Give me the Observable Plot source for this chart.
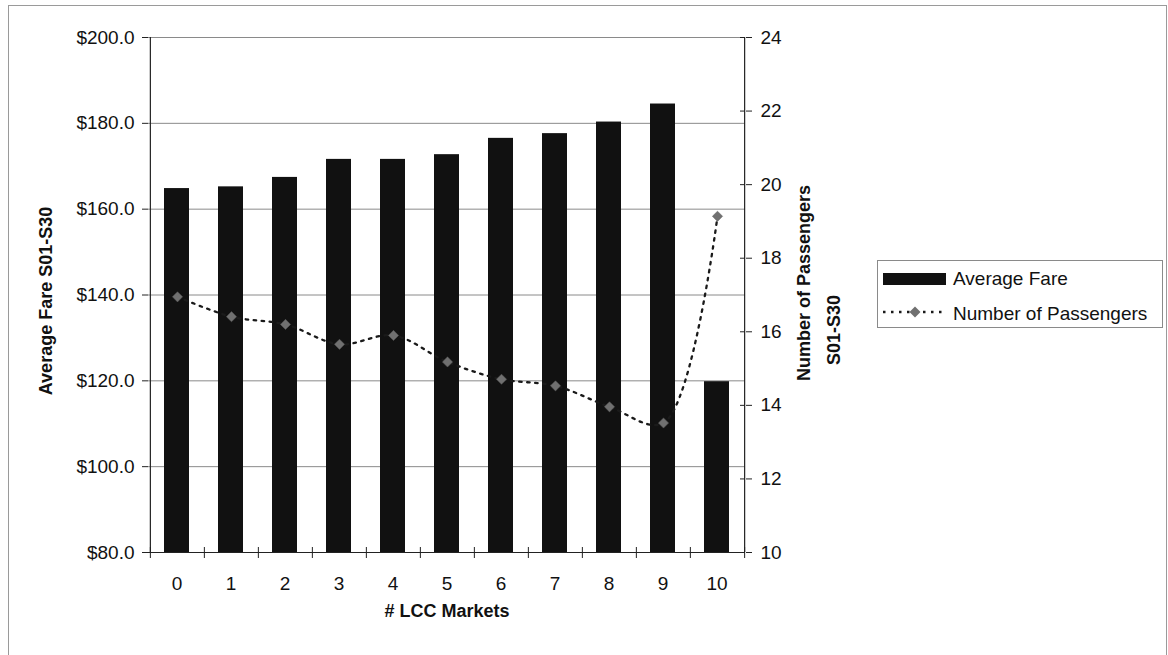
<!DOCTYPE html>
<html>
<head>
<meta charset="utf-8">
<script src="https://cdn.jsdelivr.net/npm/d3@7"></script>
<script src="https://cdn.jsdelivr.net/npm/@observablehq/plot@0.6"></script>
<style>
  html, body { margin: 0; padding: 0; background: #fff; }
  #chart { position: relative; width: 1168px; height: 655px; overflow: hidden; background: #fff;
           font-family: "Liberation Sans", Arial, sans-serif; }
  #chart svg { position: absolute; left: 0; top: 0; }
  #border { position: absolute; left: 8px; top: 5px; width: 1157px; height: 700px; border: 1px solid #9a9a9a; }
  #legend { position: absolute; left: 877px; top: 260px; width: 284px; height: 66px;
            border: 1px solid #8a8a8a; background: #fff; font-size: 19px; color: #111; }
  #legend .swatch { position: absolute; left: 5px; top: 12px; width: 63px; height: 12px; background: #111; }
  #legend .label { position: absolute; left: 75px; line-height: 22px; white-space: nowrap; }
  #legend svg { position: absolute; left: 5px; top: 44px; }
</style>
</head>
<body>
<div id="chart"><div id="border"></div></div>
<script>
// Number of low-cost-carrier markets served (x categories)
const markets = [0, 1, 2, 3, 4, 5, 6, 7, 8, 9, 10];
// Average fare, segments S01-S30 (left axis, dollars)
const averageFare = [164.8, 165.2, 167.4, 171.6, 171.6, 172.7, 176.5, 177.6, 180.3, 184.5, 119.8];
// Number of passengers, segments S01-S30 (right axis)
const passengers = [16.95, 16.41, 16.20, 15.66, 15.90, 15.18, 14.71, 14.53, 13.96, 13.52, 19.14];
// Axis ticks
const fareTicks = [80, 100, 120, 140, 160, 180, 200];
const passengerTicks = [10, 12, 14, 16, 18, 20, 22, 24];

const rows = markets.map((m, i) => ({market: m, fare: averageFare[i], pax: passengers[i]}));

// Shared layout
const W = 1168, H = 655;
const margins = {marginLeft: 148, marginRight: 423, marginTop: 37, marginBottom: 103};
const frameW = W - margins.marginLeft - margins.marginRight;
const frameH = H - margins.marginTop - margins.marginBottom;
const step = frameW / markets.length;
const font = `"Liberation Sans", Arial, sans-serif`;

// Bars with the fare axis
const fareChart = Plot.plot({
  width: W, height: H, ...margins,
  style: {background: "transparent", fontFamily: font, color: "#111", overflow: "visible"},
  x: {type: "band", domain: markets, paddingInner: 0.54, paddingOuter: 0.27},
  y: {domain: [fareTicks[0], fareTicks[fareTicks.length - 1]]},
  marks: [
    Plot.ruleY(fareTicks.slice(1), {stroke: "#8a8a8a", strokeWidth: 1}),
    Plot.barY(rows, {x: "market", y1: fareTicks[0], y2: "fare", fill: "#111"}),
    Plot.ruleY([fareTicks[0]], {stroke: "#222", strokeWidth: 1.2}),
    Plot.axisY({ticks: fareTicks, tickFormat: d => "$" + d.toFixed(1), tickSize: 6, tickPadding: 8,
                fontSize: 19, label: null, stroke: "#222"}),
    Plot.axisX({tickSize: 0, tickPadding: 24, fontSize: 19, label: null}),
    Plot.text(["Average Fare S01-S30"], {frameAnchor: "left", textAnchor: "middle", rotate: -90,
                dx: -102, dy: 6, fontWeight: "bold", fontSize: 18}),
    Plot.text(["# LCC Markets"], {frameAnchor: "bottom", textAnchor: "middle", dy: 64,
                fontWeight: "bold", fontSize: 18})
  ]
});

// Passenger line with its own axis, laid over the bars
const paxChart = Plot.plot({
  width: W, height: H, ...margins,
  style: {background: "transparent", fontFamily: font, color: "#111", overflow: "visible"},
  x: {type: "point", domain: markets, padding: 0.5, axis: null},
  y: {domain: [passengerTicks[0], passengerTicks[passengerTicks.length - 1]], axis: null},
  marks: [
    // left and right axis lines
    Plot.ruleX([markets[0]], {dx: -step / 2, stroke: "#222", strokeWidth: 1.2}),
    Plot.ruleX([markets[markets.length - 1]], {dx: step / 2, stroke: "#222", strokeWidth: 1.2}),
    // category boundary ticks on the x axis
    Plot.ruleX(markets, {dx: -step / 2, insetTop: frameH - 5, insetBottom: -6, stroke: "#222"}),
    Plot.ruleX([markets[markets.length - 1]], {dx: step / 2, insetTop: frameH - 5, insetBottom: -6, stroke: "#222"}),
    Plot.line(rows, {x: "market", y: "pax", curve: "catmull-rom", stroke: "#1a1a1a",
                     strokeWidth: 2.3, strokeDasharray: "2.5,5.5"}),
    Plot.dot(rows, {x: "market", y: "pax", symbol: "diamond2", r: 4.6, fill: "#707070", stroke: "#5a5a5a",
                    strokeWidth: 0.5}),
    // right axis ticks cross the axis line
    Plot.ruleY(passengerTicks, {insetLeft: frameW - 5, insetRight: 0, stroke: "#222"}),
    Plot.axisY({anchor: "right", ticks: passengerTicks, tickSize: 6, tickPadding: 9, fontSize: 19,
                label: null, stroke: "#222"}),
    Plot.text(["Number of Passengers"], {frameAnchor: "right", textAnchor: "middle", rotate: -90,
                dx: 59, dy: -12, fontWeight: "bold", fontSize: 18}),
    Plot.text(["S01-S30"], {frameAnchor: "right", textAnchor: "middle", rotate: -90,
                dx: 89, dy: 35, fontWeight: "bold", fontSize: 18})
  ]
});

const chart = document.getElementById("chart");
chart.appendChild(fareChart);
chart.appendChild(paxChart);

// Legend
const legend = document.createElement("div");
legend.id = "legend";
legend.innerHTML = `
  <div class="swatch"></div>
  <div class="label" style="top:7px">Average Fare</div>
  <svg width="64" height="14" viewBox="0 0 64 14">
    <line x1="0" y1="7" x2="64" y2="7" stroke="#1a1a1a" stroke-width="2.3" stroke-dasharray="2.5,5.5"></line>
    <path d="M32,1.5 L37.5,7 L32,12.5 L26.5,7 Z" fill="#707070"></path>
  </svg>
  <div class="label" style="top:42px">Number of Passengers</div>`;
chart.appendChild(legend);
</script>
</body>
</html>
